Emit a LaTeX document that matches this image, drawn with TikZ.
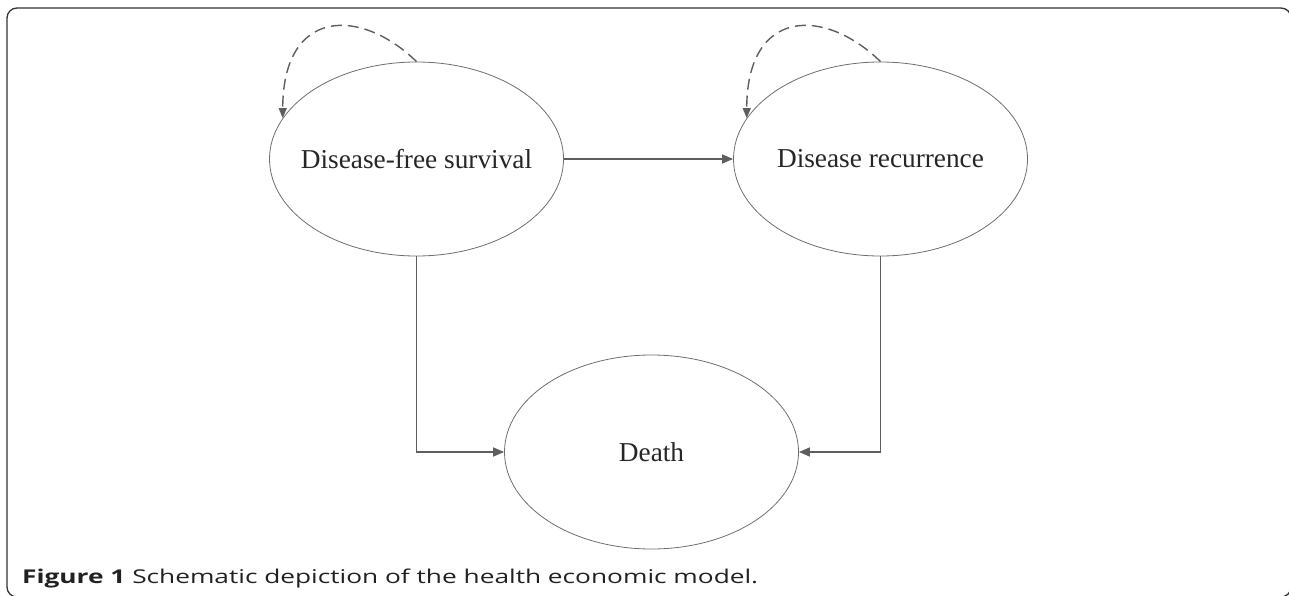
\documentclass[tikz,border=0pt]{standalone}
\usepackage{fontspec}
\setmainfont{Liberation Serif}
\newfontfamily\capfont{Open Sans}
\usetikzlibrary{shapes.geometric,arrows.meta}
\definecolor{linegray}{HTML}{5E5E5E}
\definecolor{ellgray}{HTML}{6E6E6E}
\definecolor{framegray}{HTML}{333333}
\tikzset{
  state/.style={ellipse, draw=ellgray, line width=0.8pt, minimum width=294pt, minimum height=194pt, inner sep=0pt},
  statetext/.style={inner sep=0pt, font=\fontsize{27.3}{32}\selectfont, text=black!85},
  conn/.style={draw=linegray, line width=1.6pt, -{Triangle[length=11pt,width=9pt]}},
  loop/.style={draw=linegray, line width=1.4pt, dash pattern=on 11pt off 6pt, -{Triangle[length=10pt,width=8pt]}}
}
\begin{document}
\begin{tikzpicture}[x=1pt,y=-1pt]
\useasboundingbox (0,0) rectangle (1289,596);
\begin{scope}
\clip (0,0) rectangle (1289,596);
\draw[framegray, line width=1.3pt, rounded corners=10pt] (7,8) rectangle (1291,597);
\end{scope}
\node[state] (dfs) at (416.5,159) {};
\node[state] (rec) at (880.5,159) {};
\node[state] (death) at (651.5,452) {};
\node[statetext] (dfst) at (dfs.center) {Disease-free survival};
\node[statetext] (rect) at (rec.center) {Disease recurrence};
\node[statetext] (deatht) at (death.center) {Death};
\draw[conn] (dfs.east) -- (rec.west);
\draw[conn] (dfs.south) |- (death.west);
\draw[conn] (rec.south) |- (death.east);
\draw[loop] (dfs.north) .. controls +(-56.5,-55) and +(0,-110) .. (dfs.163);
\draw[loop] (rec.north) .. controls +(-56.5,-55) and +(0,-110) .. (rec.163);
\node[anchor=base west, inner sep=0pt, font=\capfont\fontsize{19}{23}\selectfont, text=black!87] (cap) at (22,583) {\resizebox{736pt}{\height}{\textbf{Figure 1} Schematic depiction of the health economic model.}};
\end{tikzpicture}
\end{document}
